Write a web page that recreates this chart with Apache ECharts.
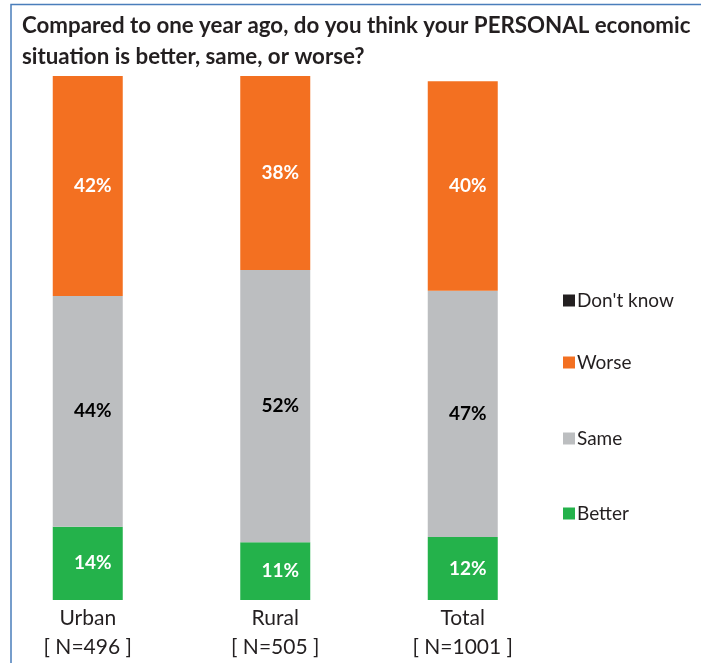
<!DOCTYPE html>
<html>
<head>
<meta charset="utf-8">
<script src="https://cdn.jsdelivr.net/npm/echarts@6/dist/echarts.min.js"></script>
<style>
  html, body { margin: 0; padding: 0; background: #fff; }
  #chart { width: 701px; height: 663px; }
</style>
</head>
<body>
<div id="chart"></div>
<script>
// Survey groups and sample sizes
const categories = ['Urban', 'Rural', 'Total'];
const sampleSizes = ['[ N=496 ]', '[ N=505 ]', '[ N=1001 ]'];

// Share of respondents (%) per answer
const better = [14, 11, 12];
const same = [44, 52, 47];
const worse = [42, 38, 40];
const dontKnow = [0, 0, 0];

const FONT = 'Lato';
const colors = {
  better: '#24B24B',
  same: '#BCBEC0',
  worse: '#F37021',
  dontKnow: '#231F20'
};

function seg(name, data, color, labelColor) {
  return {
    name: name,
    type: 'bar',
    stack: 'all',
    barWidth: 70,
    data: data,
    itemStyle: { color: color },
    label: {
      show: labelColor !== null,
      position: 'inside',
      offset: [5, 0],
      formatter: p => p.value + '%',
      color: labelColor || '#000',
      fontFamily: FONT,
      fontWeight: 'bold',
      fontSize: 19
    }
  };
}

function legendAt(name, y) {
  return {
    data: [name],
    orient: 'vertical',
    left: 558,
    top: y,
    icon: 'rect',
    itemWidth: 12,
    itemHeight: 12,
    itemGap: 0,
    selectedMode: false,
    textStyle: { fontFamily: FONT, fontSize: 19, color: '#231F20', padding: [0, 0, 0, -3] }
  };
}

const chart = echarts.init(document.getElementById('chart'));
chart.setOption({
  animation: false,
  title: {
    text: 'Compared to one year ago, do you think your PERSONAL economic\nsituation is better, same, or worse?',
    left: 17,
    top: 5,
    textStyle: {
      fontFamily: FONT,
      fontWeight: 'bold',
      fontSize: 22.3,
      lineHeight: 31,
      color: '#231F20'
    }
  },
  legend: [
    legendAt("Don't know", 286),
    legendAt('Worse', 348),
    legendAt('Same', 424),
    legendAt('Better', 499)
  ],
  graphic: [{
    type: 'rect',
    shape: { x: 11, y: 4.5, width: 720, height: 700 },
    style: { fill: 'none', stroke: '#4A7EBB', lineWidth: 1.5 },
    silent: true
  }],
  grid: { left: -6, top: 76, width: 562.5, height: 524, outerBoundsMode: 'none', containLabel: false },
  xAxis: {
    type: 'category',
    data: categories,
    axisLine: { show: false },
    axisTick: { show: false },
    axisLabel: {
      margin: 4,
      fontFamily: FONT,
      fontSize: 21,
      lineHeight: 29,
      color: '#231F20',
      formatter: (v, i) => v + '\n' + sampleSizes[i]
    }
  },
  yAxis: { type: 'value', min: 0, max: 100, show: false },
  series: [
    seg('Better', better, colors.better, '#FFFFFF'),
    seg('Same', same, colors.same, '#000000'),
    seg('Worse', worse, colors.worse, '#FFFFFF'),
    seg("Don't know", dontKnow, colors.dontKnow, null)
  ]
});
</script>
</body>
</html>
